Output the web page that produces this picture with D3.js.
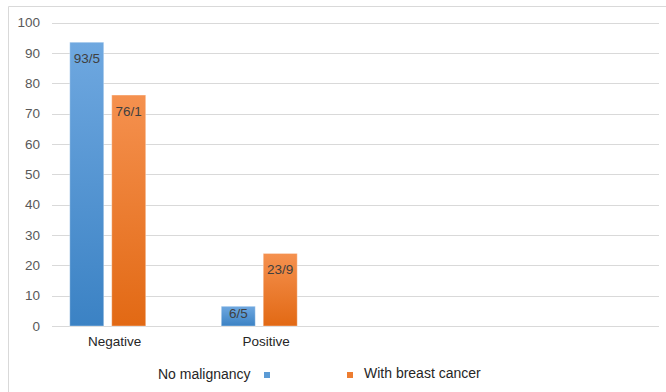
<!DOCTYPE html>
<html>
<head>
<meta charset="utf-8">
<script src="https://cdn.jsdelivr.net/npm/d3@7"></script>
<style>
  html, body { margin: 0; padding: 0; background: #fff; }
  svg { display: block; font-family: "Liberation Sans", Arial, sans-serif; }
</style>
</head>
<body>
<svg id="chart" width="666" height="392"></svg>
<script>
// Categories and series
const categories = ["Negative", "Positive"];
const seriesNames = ["No malignancy", "With breast cancer"];
const noMalignancy = [93.5, 6.5];
const withBreastCancer = [76.1, 23.9];
const valueLabels = [["93/5", "6/5"], ["76/1", "23/9"]];
const yTicks = [0, 10, 20, 30, 40, 50, 60, 70, 80, 90, 100];

const series = [noMalignancy, withBreastCancer];
const gradients = [["#6fa8e0", "#3b82c4"], ["#f5914f", "#e26914"]];

const svg = d3.select("#chart");

// outer frame (left and top edges)
svg.append("path")
  .attr("d", "M8.5,392 L8.5,6.5 L666,6.5")
  .attr("fill", "none")
  .attr("stroke", "#d9d9d9")
  .attr("stroke-width", 1);

const defs = svg.append("defs");
gradients.forEach((g, i) => {
  const lg = defs.append("linearGradient")
    .attr("id", "grad" + i)
    .attr("x1", 0).attr("y1", 0).attr("x2", 0).attr("y2", 1);
  lg.append("stop").attr("offset", "0%").attr("stop-color", g[0]);
  lg.append("stop").attr("offset", "100%").attr("stop-color", g[1]);
});

const gridLeft = 52, gridRight = 659;
const y = d3.scaleLinear().domain([0, 100]).range([326, 22.5]);
const x = d3.scaleBand().domain(categories).range([32, 335]);
const xs = d3.scaleBand().domain(d3.range(series.length))
  .range([0, x.bandwidth()]).paddingInner(0.19).paddingOuter(0.9);

// gridlines
svg.append("g")
  .selectAll("line")
  .data(yTicks)
  .join("line")
  .attr("x1", gridLeft).attr("x2", gridRight)
  .attr("y1", d => Math.round(y(d)) + 0.5)
  .attr("y2", d => Math.round(y(d)) + 0.5)
  .attr("stroke", "#d9d9d9")
  .attr("stroke-width", 1);

// y axis labels
const yAxis = d3.axisLeft(y).tickValues(yTicks).tickSize(0).tickPadding(0);
const ya = svg.append("g").attr("transform", "translate(40,0)").call(yAxis);
ya.select(".domain").remove();
ya.selectAll("text")
  .attr("fill", "#595959")
  .style("font-size", "13.5px")
  .style("font-family", "'Liberation Sans', Arial, sans-serif");

// bars with value labels inside the bar end
series.forEach((vals, si) => {
  const g = svg.append("g");
  g.selectAll("rect")
    .data(categories)
    .join("rect")
    .attr("x", c => x(c) + xs(si))
    .attr("y", (c, i) => y(vals[i]))
    .attr("width", xs.bandwidth())
    .attr("height", (c, i) => y(0) - y(vals[i]))
    .attr("fill", `url(#grad${si})`)
    .attr("stroke", "rgba(255,255,255,0.35)")
    .attr("stroke-width", 1);
  g.selectAll("text")
    .data(categories)
    .join("text")
    .attr("x", c => x(c) + xs(si) + xs.bandwidth() / 2)
    .attr("y", (c, i) => Math.min(y(vals[i]) + 21, y(0) - 8))
    .attr("text-anchor", "middle")
    .attr("fill", "#404040")
    .style("font-size", "13.5px")
    .text((c, i) => valueLabels[si][i]);
});

// category labels
svg.append("g")
  .selectAll("text")
  .data(categories)
  .join("text")
  .attr("x", c => x(c) + x.bandwidth() / 2 + 7)
  .attr("y", 346)
  .attr("text-anchor", "middle")
  .attr("fill", "#262626")
  .style("font-size", "13.5px")
  .text(c => c);

// legend
const legend = svg.append("g");
legend.append("text")
  .attr("x", 158).attr("y", 379)
  .attr("fill", "#262626")
  .style("font-size", "14px")
  .text(seriesNames[0]);
legend.append("rect")
  .attr("x", 264).attr("y", 372).attr("width", 6).attr("height", 6)
  .attr("fill", "#5b9bd5");
legend.append("rect")
  .attr("x", 347).attr("y", 372).attr("width", 6).attr("height", 6)
  .attr("fill", "#ed7d31");
legend.append("text")
  .attr("x", 364).attr("y", 378)
  .attr("fill", "#262626")
  .style("font-size", "14px")
  .text(seriesNames[1]);
</script>
</body>
</html>
